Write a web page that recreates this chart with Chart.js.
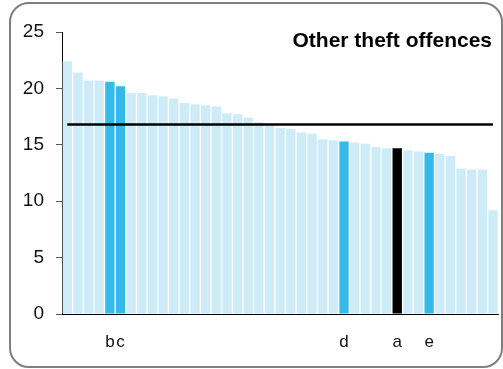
<!DOCTYPE html>
<html>
<head>
<meta charset="utf-8">
<script src="https://cdn.jsdelivr.net/npm/chart.js@4/dist/chart.umd.min.js"></script>
<style>
  html, body { margin: 0; padding: 0; background: #fff; }
  #wrap { position: relative; width: 503px; height: 369px; }
  #frame {
    position: absolute; left: 9px; top: 2px; width: 490px; height: 362px;
    border: 2px solid #7f7f7f; border-radius: 20px;
  }
  #theftChart { position: absolute; left: 0; top: 0; }
</style>
</head>
<body>
<div id="wrap">
  <div id="frame"></div>
  <canvas id="theftChart" width="503" height="369"></canvas>
</div>
<script>
const areas = Array.from({ length: 41 }, (_, i) => "Area " + (i + 1));

const offences = [
  22.4, 21.4, 20.7, 20.7, 20.6, 20.2, 19.6, 19.6, 19.4, 19.3,
  19.1, 18.7, 18.6, 18.5, 18.4, 17.8, 17.7, 17.4, 17.0, 16.7,
  16.5, 16.4, 16.1, 16.0, 15.5, 15.4, 15.3, 15.2, 15.1, 14.8,
  14.7, 14.7, 14.5, 14.4, 14.3, 14.2, 14.0, 12.9, 12.8, 12.8,
  9.2
];

const tickLabels = [
  "", "", "", "", "b", "c", "", "", "", "",
  "", "", "", "", "", "", "", "", "", "",
  "", "", "", "", "", "", "d", "", "", "",
  "", "a", "", "", "e", "", "", "", "", "",
  ""
];

const average = 16.8;
const yTicks = [0, 5, 10, 15, 20, 25];

const barColors = tickLabels.map(l => l === "a" ? "#000000" : (l ? "#35b9e9" : "#cdecf8"));

const titlePlugin = {
  id: "cornerTitle",
  afterDraw(chart) {
    const c = chart.ctx;
    c.save();
    c.font = "bold 21px 'Liberation Sans', Arial, sans-serif";
    c.fillStyle = "#000";
    c.textAlign = "right";
    c.textBaseline = "middle";
    c.fillText("Other theft offences", 492, 41);
    c.restore();
  }
};

const ctx = document.getElementById("theftChart").getContext("2d");

new Chart(ctx, {
  type: "bar",
  data: {
    labels: areas,
    datasets: [
      {
        type: "line",
        data: areas.map(() => average),
        borderColor: "#000",
        borderWidth: 2.5,
        pointRadius: 0,
        fill: false,
        order: 0
      },
      {
        data: offences,
        backgroundColor: barColors,
        barPercentage: 0.88,
        categoryPercentage: 1,
        order: 1
      }
    ]
  },
  options: {
    responsive: false,
    animation: false,
    layout: { padding: { left: 0, right: -5, top: 32, bottom: 0 } },
    plugins: {
      legend: { display: false },
      tooltip: { enabled: false }
    },
    scales: {
      x: {
        grid: { display: false },
        border: { display: true, color: "#000", width: 1 },
        ticks: {
          autoSkip: false,
          maxRotation: 0,
          padding: 10,
          color: "#111",
          font: { family: "'Liberation Sans', Arial, sans-serif", size: 17 },
          callback: (v, i) => tickLabels[i]
        },
        afterFit: s => { s.height = 55; }
      },
      y: {
        min: 0,
        max: 25,
        afterBuildTicks: s => { s.ticks = yTicks.map(v => ({ value: v })); },
        grid: { display: true, drawOnChartArea: false, drawTicks: true, tickLength: 6, color: "#555" },
        border: { display: true, color: "#000", width: 1 },
        ticks: {
          padding: 12,
          color: "#111",
          font: { family: "'Liberation Sans', Arial, sans-serif", size: 19 }
        },
        afterFit: s => { s.width = 62; }
      }
    }
  },
  plugins: [titlePlugin]
});
</script>
</body>
</html>
